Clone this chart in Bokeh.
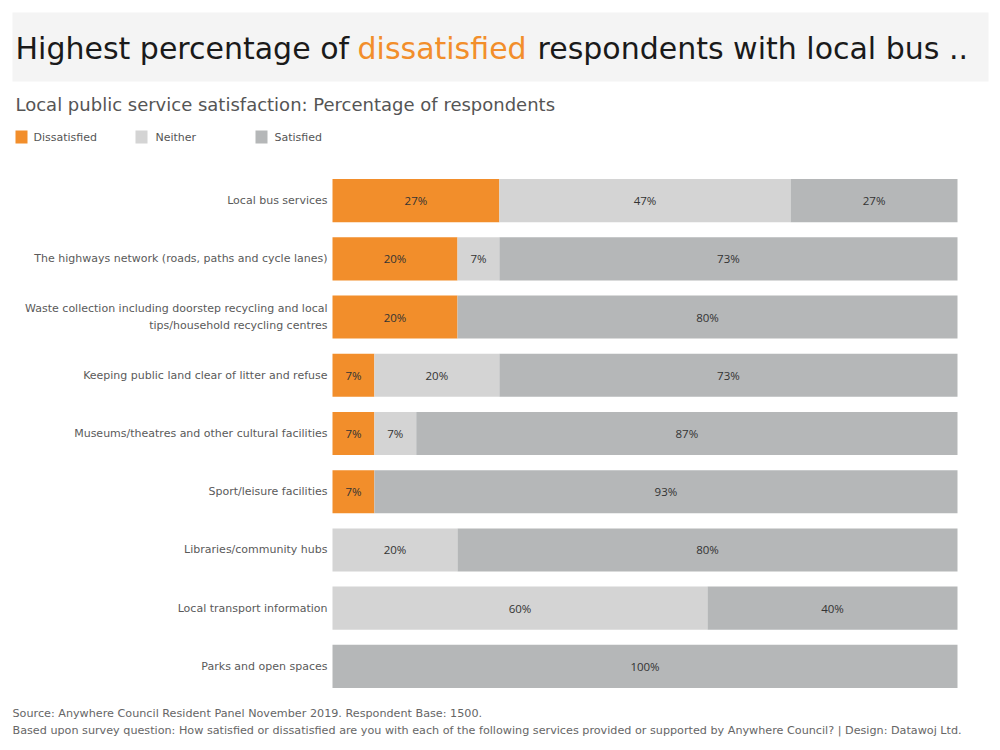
from bokeh.plotting import figure
from bokeh.models import ColumnDataSource, Range1d
from bokeh.core.properties import value
from bokeh.embed import file_html
from bokeh.resources import INLINE

# Survey results: share of respondents (%) per service
categories = [
    "Local bus services",
    "The highways network (roads, paths and cycle lanes)",
    "Waste collection including doorstep recycling and local\ntips/household recycling centres",
    "Keeping public land clear of litter and refuse",
    "Museums/theatres and other cultural facilities",
    "Sport/leisure facilities",
    "Libraries/community hubs",
    "Local transport information",
    "Parks and open spaces",
]
dissatisfied = [26.7, 20.0, 20.0, 6.7, 6.7, 6.7, 0.0, 0.0, 0.0]
neither = [46.6, 6.7, 0.0, 20.0, 6.7, 0.0, 20.0, 60.0, 0.0]
satisfied = [26.7, 73.3, 80.0, 73.3, 86.6, 93.3, 80.0, 40.0, 100.0]

series = ["Dissatisfied", "Neither", "Satisfied"]
colors = ["#F28E2B", "#D4D4D4", "#B5B7B8"]

title_parts = ["Highest percentage of", "dissatisfied", "respondents with local bus .."]
subtitle = "Local public service satisfaction: Percentage of respondents"
footer_lines = [
    "Source: Anywhere Council Resident Panel November 2019.  Respondent Base: 1500.",
    "Based upon survey question: How satisfied or dissatisfied are you with each of the following services "
    "provided or supported by Anywhere Council?  | Design: Datawoj Ltd.",
]

FONT = "DejaVu Sans"
VAL_FONT = "Open Sans"
W, H = 1000, 750

# Bar area on the page (pixels): x 332..957, rows between y 171..695
BAR_L, BAR_R = 332, 957
ROWS_T, ROWS_B = 171, 695
n = len(categories)
px_per_pct = (BAR_R - BAR_L) / 100
px_per_row = (ROWS_B - ROWS_T) / n

# One page-sized canvas: default ranges are page pixels (y down),
# extra ranges carry the percentage axis and the row axis.
p = figure(width=W, height=H, x_range=Range1d(0, W), y_range=Range1d(H, 0),
           output_backend="svg", toolbar_location=None,
           min_border=0, min_border_left=0, min_border_right=0,
           min_border_top=0, min_border_bottom=0)
p.extra_x_ranges = {"pct": Range1d(-BAR_L / px_per_pct, (W - BAR_L) / px_per_pct)}
p.extra_y_ranges = {"rows": Range1d(n + (H - ROWS_B) / px_per_row, -ROWS_T / px_per_row)}
p.axis.visible = False
p.grid.visible = False
p.outline_line_color = None

ypos = [i + 0.5 for i in range(n)]
src = ColumnDataSource(dict(
    y=ypos,
    cat=categories,
    Dissatisfied=dissatisfied,
    Neither=neither,
    Satisfied=satisfied,
))

# Stacked bars
p.hbar_stack(series, y="y", height=0.74, color=colors, source=src, line_color=None,
             x_range_name="pct", y_range_name="rows")

# Category labels, right-aligned just left of the bars
p.text(x=BAR_L - 5, y="y", text="cat", source=src, y_range_name="rows",
       text_align="right", text_baseline="middle", text_line_height=1.35,
       text_font=value(FONT), text_font_size="11px", text_color="#5a5a5a")

# Value labels centred in each segment
lx, ly, lt = [], [], []
for i in range(n):
    start = 0.0
    for v in (dissatisfied[i], neither[i], satisfied[i]):
        if v > 0:
            lx.append(start + v / 2)
            ly.append(ypos[i])
            lt.append(f"{round(v)}%")
        start += v
p.text(x=lx, y=ly, text=lt, x_range_name="pct", y_range_name="rows",
       text_align="center", text_baseline="middle",
       text_font=value(VAL_FONT), text_font_size="11.5px", text_color="#333333")


def put_text(x, y, text, size, color):
    p.text(x=[x], y=[y], text=[text], text_font=value(FONT), text_font_size=size,
           text_color=color, text_align="left", text_baseline="middle")


# Title band
p.quad(left=[12], right=[988], top=[12], bottom=[81], color="#F4F4F4", line_color=None)
put_text(15, 48, title_parts[0], "30px", "#1a1a1a")
put_text(357, 48, title_parts[1], "30px", "#F28E2B")
put_text(537, 48, title_parts[2], "30px", "#1a1a1a")

put_text(15, 104, subtitle, "18px", "#555555")

# Legend
for sx, tx, name, col in zip([15, 135, 255], [33, 155, 274], series, colors):
    p.quad(left=[sx], right=[sx + 12], top=[130], bottom=[143], color=col, line_color=None)
    put_text(tx, 137, name, "11px", "#555555")

# Footer
put_text(12, 713, footer_lines[0], "11.2px", "#666666")
put_text(12, 730, footer_lines[1], "11.2px", "#666666")

open("out.html", "w").write(file_html(p, INLINE))
